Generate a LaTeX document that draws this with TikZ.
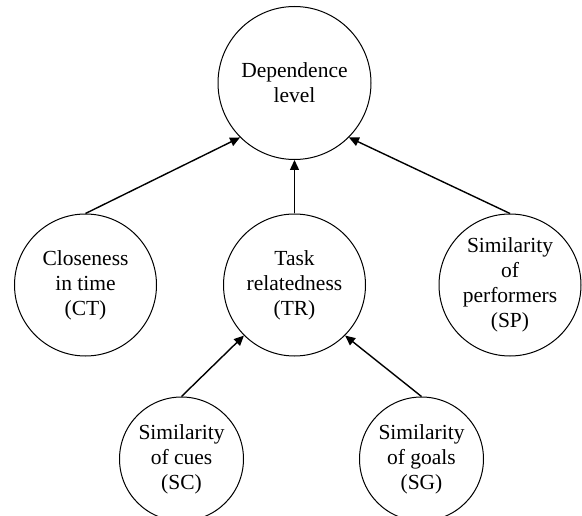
\documentclass[tikz,border=0pt]{standalone}
\usepackage{fontspec}
\setmainfont{Liberation Serif}
\usepackage{tikz}
\usetikzlibrary{positioning}
\usetikzlibrary{arrows.meta}

\begin{document}
\begin{tikzpicture}[x=1pt,y=1pt,
    factor/.style={circle,draw,line width=1pt,inner sep=0pt,align=center,
      font=\rmfamily\fontsize{21.5}{25}\selectfont},
    link/.style={line width=1.4pt,-{Triangle[length=10pt,width=9pt]}}]
    \useasboundingbox (0,0) rectangle (582,-516);
    \node[factor,minimum size=153pt] (D) at (294.5,-83) {Dependence\\level};
    \node[factor,minimum size=142pt] (TR) [below=53.5pt of D] {Task\\relatedness\\(TR)};
    \node[factor,minimum size=142pt] (CT) [left=66pt of TR] {Closeness\\in time\\(CT)};
    \node[factor,minimum size=142pt] (SP) [right=72.5pt of TR] {Similarity\\of\\performers\\(SP)};
    \node[factor,minimum size=124pt] (SC) [below=40pt of TR,xshift=-113pt] {Similarity\\of cues\\(SC)};
    \node[factor,minimum size=124pt] (SG) [below=40pt of TR,xshift=127pt] {Similarity\\of goals\\(SG)};
    \draw[link] (CT.north) -- (D.225);
    \draw[link] (TR.north) -- (D.south);
    \draw[link] (SP.north) -- (D.315);
    \draw[link] (SC.north) -- (TR.225);
    \draw[link] (SG.north) -- (TR.315);
\end{tikzpicture}
\end{document}
